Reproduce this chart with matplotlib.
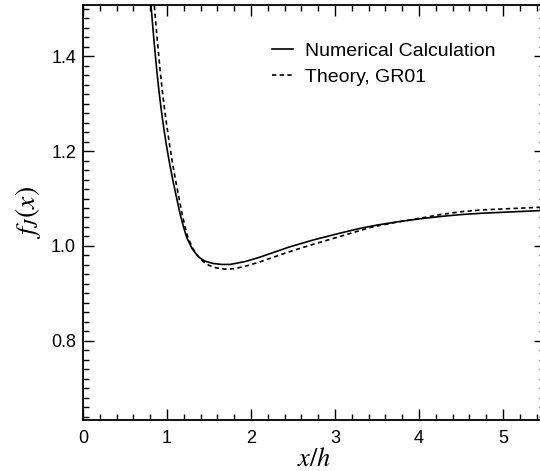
import numpy as np
import matplotlib
matplotlib.use("Agg")
import matplotlib.pyplot as plt
from matplotlib.ticker import MultipleLocator

plt.rcParams['font.family'] = ['Liberation Sans', 'DejaVu Sans']
plt.rcParams['mathtext.fontset'] = 'stix'

# Numerical Calculation (solid)
num_x = [0.81, 0.843, 0.877, 0.906, 0.936, 0.966, 0.996, 1.035, 1.075, 1.115, 1.155, 1.195,
         1.234, 1.30, 1.373, 1.45, 1.55, 1.651, 1.75, 1.929, 2.1, 2.23, 2.46, 2.75, 3.06,
         3.3, 3.5, 3.75, 4.0, 4.25, 4.49, 4.75, 5.0, 5.25, 5.5]
num_y = [1.506, 1.437, 1.372, 1.324, 1.281, 1.243, 1.209, 1.170, 1.134, 1.101, 1.068, 1.041,
         1.018, 0.994, 0.977, 0.968, 0.963, 0.961, 0.961, 0.967, 0.976, 0.984, 0.998, 1.013,
         1.027, 1.037, 1.044, 1.051, 1.057, 1.062, 1.066, 1.069, 1.071, 1.073, 1.075]

# Theory, GR01 (dashed)
gr_x = [0.849, 0.883, 0.917, 0.946, 0.976, 1.006, 1.034, 1.070, 1.107, 1.143, 1.179, 1.214,
        1.248, 1.31, 1.38, 1.432, 1.50, 1.58, 1.69, 1.80, 1.929, 2.1, 2.23, 2.46, 2.75, 3.06,
        3.25, 3.42, 3.7, 4.0, 4.25, 4.49, 4.75, 5.0, 5.25, 5.5]
gr_y = [1.506, 1.437, 1.372, 1.324, 1.281, 1.243, 1.209, 1.170, 1.134, 1.101, 1.068, 1.041,
        1.018, 0.994, 0.976, 0.967, 0.959, 0.954, 0.951, 0.952, 0.957, 0.966, 0.974, 0.988,
        1.004, 1.020, 1.030, 1.039, 1.049, 1.058, 1.066, 1.072, 1.076, 1.078, 1.080, 1.082]

fig = plt.figure(figsize=(5.4, 4.71), dpi=100)
# axes runs a little past the right edge, as in the reference
ax = fig.add_axes([83 / 540, 51 / 471, 462 / 540, 415 / 471])

ax.plot(num_x, num_y, color='black', lw=1.2, label='Numerical Calculation')
ax.plot(gr_x, gr_y, color='black', lw=1.2, linestyle=(0, (2.6, 2.0)), label='Theory, GR01')

ax.set_xlim(0, 5.5)
ax.set_ylim(0.633, 1.508)
ax.xaxis.set_major_locator(MultipleLocator(1))
ax.xaxis.set_minor_locator(MultipleLocator(0.2))
ax.yaxis.set_major_locator(MultipleLocator(0.2))
ax.yaxis.set_minor_locator(MultipleLocator(0.02))
ax.tick_params(which='both', direction='in', top=True, right=True, labelsize=13, width=1.0)
ax.tick_params(which='major', length=8, pad=5)
ax.tick_params(which='minor', length=4)
ax.tick_params(axis='x', which='major', pad=7)
for sp in ax.spines.values():
    sp.set_linewidth(1.3)

ax.set_xlabel(r'$x/h$', fontsize=19, labelpad=0)
ax.set_ylabel(r'$f_J(x)$', fontsize=20, labelpad=6)

ax.legend(loc='upper left', bbox_to_anchor=(0.41, 0.91), frameon=False, fontsize=14,
          handlelength=1.05, handletextpad=0.65, borderaxespad=0, borderpad=0,
          labelspacing=0.42)

fig.savefig('out.png', dpi=100)
